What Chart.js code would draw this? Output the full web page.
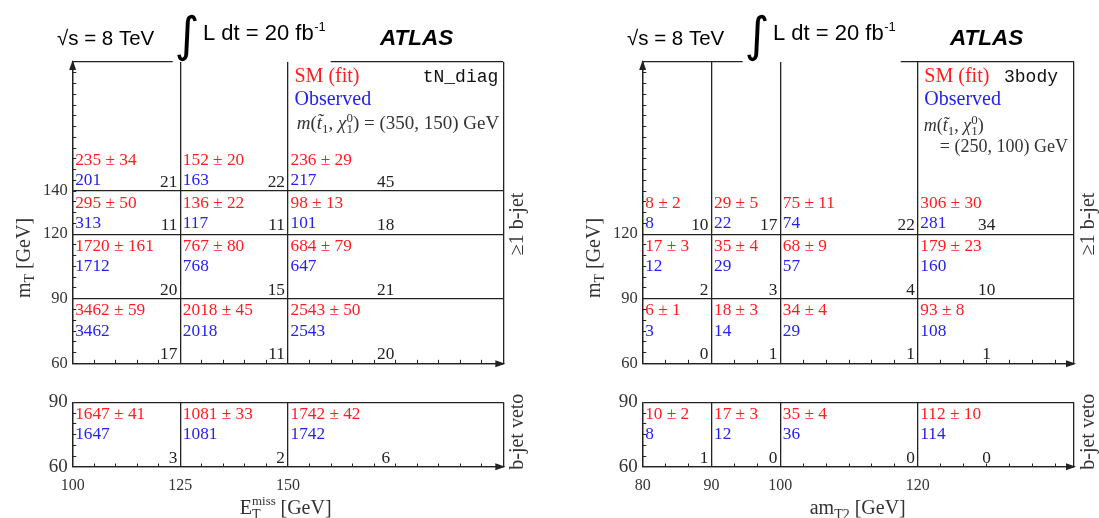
<!DOCTYPE html>
<html>
<head>
<meta charset="utf-8">
<title>SM fit vs observed yields</title>
<script src="https://cdn.jsdelivr.net/npm/chart.js@4.4.1/dist/chart.umd.min.js"></script>
<style>
  html, body { margin: 0; padding: 0; background: #fff; }
  #page { position: relative; width: 1099px; height: 518px; overflow: hidden; background: #fff; }
  #page canvas { position: absolute; left: 0; top: 0; }
</style>
</head>
<body>
<div id="page">
  <canvas id="tnMain" width="1099" height="518"></canvas>
  <canvas id="tnVeto" width="1099" height="518"></canvas>
  <canvas id="bodyMain" width="1099" height="518"></canvas>
  <canvas id="bodyVeto" width="1099" height="518"></canvas>
</div>
<script>
// tN_diag: ETmiss x mT, rows go bottom -> top (60-90, 90-120, 120-140, >140)
const tnXTicks = [100, 125, 150];
const tnYTicks = [60, 90, 120, 140];
const tnFit = [[3462, 2018, 2543], [1720, 767, 684], [295, 136, 98], [235, 152, 236]];
const tnFitErr = [[59, 45, 50], [161, 80, 79], [50, 22, 13], [34, 20, 29]];
const tnObs = [[3462, 2018, 2543], [1712, 768, 647], [313, 117, 101], [201, 163, 217]];
const tnSig = [[17, 11, 20], [20, 15, 21], [11, 11, 18], [21, 22, 45]];

// tN_diag, b-jet veto (mT 60-90)
const tnVetoYTicks = [60, 90];
const tnVetoFit = [[1647, 1081, 1742]];
const tnVetoFitErr = [[41, 33, 42]];
const tnVetoObs = [[1647, 1081, 1742]];
const tnVetoSig = [[3, 2, 6]];

// 3body: amT2 x mT, rows bottom -> top (60-90, 90-120, >120)
const b3XTicks = [80, 90, 100, 120];
const b3YTicks = [60, 90, 120];
const b3Fit = [[6, 18, 34, 93], [17, 35, 68, 179], [8, 29, 75, 306]];
const b3FitErr = [[1, 3, 4, 8], [3, 4, 9, 23], [2, 5, 11, 30]];
const b3Obs = [[3, 14, 29, 108], [12, 29, 57, 160], [8, 22, 74, 281]];
const b3Sig = [[0, 1, 1, 1], [2, 3, 4, 10], [10, 17, 22, 34]];

// 3body, b-jet veto (mT 60-90)
const b3VetoYTicks = [60, 90];
const b3VetoFit = [[10, 17, 35, 112]];
const b3VetoFitErr = [[2, 3, 4, 10]];
const b3VetoObs = [[8, 12, 36, 114]];
const b3VetoSig = [[1, 0, 0, 0]];

const W = 1099, H = 518;
const RED = '#ff1c1c', BLUE = '#2222ee', INK = '#222', AXIS = '#333';
const LW = 1.3;
const Y_AXIS_W = 50, X_AXIS_H = 45;
const SERIF = '"Liberation Serif", "DejaVu Serif", serif';
const SANS = '"Liberation Sans", Arial, sans-serif';
const MONO = '"Liberation Mono", "DejaVu Sans Mono", monospace';

function crisp(v, w) {
  const h = w / 2;
  return Math.round(v - h) + h;
}

function line(ctx, x1, y1, x2, y2) {
  ctx.beginPath();
  ctx.moveTo(x1, y1);
  ctx.lineTo(x2, y2);
  ctx.stroke();
}

// draws a run of text pieces (sub/superscripts), returns width
function drawParts(ctx, x, y, parts, dry) {
  let cx = x;
  parts.forEach((p) => {
    ctx.font = p.f;
    const w = ctx.measureText(p.t).width;
    if (!dry) ctx.fillText(p.t, cx, y + (p.dy || 0));
    if (!p.over) cx += w;
  });
  return cx - x;
}

function partsCentered(ctx, cx, y, parts) {
  const w = drawParts(ctx, 0, 0, parts, true);
  drawParts(ctx, cx - w / 2, y, parts);
}

function rotatedLabel(ctx, baseX, cy, parts, color) {
  ctx.save();
  ctx.translate(baseX, cy);
  ctx.rotate(-Math.PI / 2);
  ctx.fillStyle = color;
  ctx.textAlign = 'left';
  ctx.textBaseline = 'alphabetic';
  partsCentered(ctx, 0, 0, parts);
  ctx.restore();
}

const f = (size, style) => `${style ? style + ' ' : ''}${size}px ${SERIF}`;

const panels = [
  {
    id: 'tnMain', kind: 'main', box: [72.7, 62, 503.3, 363.3], x: [100, 200], y: [60, 200],
    xTicks: tnXTicks, yTicks: tnYTicks, fit: tnFit, err: tnFitErr, obs: tnObs, sig: tnSig,
    openTop: true, lastCenter: 172.7, minorX: 5, yFont: 16.5,
    tag: 'tN_diag', tagRight: 5, massSplit: false, massSize: 19, massPair: '(350, 150) GeV'
  },
  {
    id: 'tnVeto', kind: 'veto', box: [72.7, 402.3, 503.3, 467], x: [100, 200], y: [60, 90],
    xTicks: tnXTicks, yTicks: tnVetoYTicks, fit: tnVetoFit, err: tnVetoFitErr, obs: tnVetoObs, sig: tnVetoSig,
    openTop: false, lastCenter: 172.7, minorX: 5, yFont: 19,
    xTitle: [{ t: 'E', f: f(20) }, { t: 'miss', f: f(13), dy: -9, over: true }, { t: 'T', f: f(14), dy: 5 }, { t: '    [GeV]', f: f(20) }]
  },
  {
    id: 'bodyMain', kind: 'main', box: [642.7, 62, 1074, 363.3], x: [80, 142.7], y: [60, 200],
    xTicks: b3XTicks, yTicks: b3YTicks, fit: b3Fit, err: b3FitErr, obs: b3Obs, sig: b3Sig,
    openTop: true, lastCenter: 130, minorX: 10 / 3, yFont: 16.5,
    tag: '3body', tagRight: 16, massSplit: true, massSize: 18, massPair: '(250, 100) GeV'
  },
  {
    id: 'bodyVeto', kind: 'veto', box: [642.7, 402.3, 1074, 467], x: [80, 142.7], y: [60, 90],
    xTicks: b3XTicks, yTicks: b3VetoYTicks, fit: b3VetoFit, err: b3VetoFitErr, obs: b3VetoObs, sig: b3VetoSig,
    openTop: false, lastCenter: 130, minorX: 10 / 3, yFont: 19,
    xTitle: [{ t: 'am', f: f(20) }, { t: 'T2', f: f(14), dy: 5 }, { t: ' [GeV]', f: f(20) }]
  }
];

function drawCells(chart, p) {
  const { ctx } = chart;
  const xs = chart.scales.x, ys = chart.scales.y;
  const xEdges = [...p.xTicks, p.x[1]];
  const yEdges = p.yTicks[p.yTicks.length - 1] === p.y[1] ? p.yTicks : [...p.yTicks, p.y[1]];
  ctx.save();
  ctx.font = f(17.3);
  ctx.textBaseline = 'alphabetic';
  p.fit.forEach((row, r) => {
    row.forEach((v, c) => {
      const left = xs.getPixelForValue(xEdges[c]);
      const right = xs.getPixelForValue(xEdges[c + 1]);
      const bottom = ys.getPixelForValue(yEdges[r]);
      const topVal = (p.openTop && r === p.fit.length - 1) ? yEdges[r] + 20 : yEdges[r + 1];
      const smY = ys.getPixelForValue(topVal) + 16.5;
      ctx.textAlign = 'left';
      ctx.fillStyle = RED;
      ctx.fillText(`${v} ± ${p.err[r][c]}`, left + 2.5, smY);
      ctx.fillStyle = BLUE;
      ctx.fillText(String(p.obs[r][c]), left + 2.5, smY + 20.5);
      ctx.fillStyle = INK;
      if (c === row.length - 1) {
        ctx.textAlign = 'center';
        ctx.fillText(String(p.sig[r][c]), xs.getPixelForValue(p.lastCenter), bottom - 4);
      } else {
        ctx.textAlign = 'right';
        ctx.fillText(String(p.sig[r][c]), right - 3, bottom - 4);
      }
    });
  });
  ctx.restore();
}

function drawFrame(chart, p) {
  const { ctx, chartArea: a } = chart;
  const xs = chart.scales.x, ys = chart.scales.y;
  ctx.save();
  ctx.strokeStyle = INK;
  ctx.fillStyle = INK;
  ctx.lineWidth = LW;
  const xR = crisp(a.right, LW), yT = crisp(a.top, LW), yB = crisp(a.bottom, LW), xL = crisp(a.left, LW);
  line(ctx, xR, a.top, xR, a.bottom);
  if (p.kind === 'main') {
    // top edge is interrupted by the luminosity label
    line(ctx, a.left, yT, a.left + 100, yT);
    line(ctx, a.left + 258, yT, a.right, yT);
    ctx.beginPath();
    ctx.moveTo(xL, a.top - 2);
    ctx.lineTo(xL - 3.5, a.top + 8);
    ctx.lineTo(xL + 3.5, a.top + 8);
    ctx.closePath();
    ctx.fill();
  }
  ctx.beginPath();
  ctx.moveTo(a.right + 2, yB);
  ctx.lineTo(a.right - 8, yB - 3.5);
  ctx.lineTo(a.right - 8, yB + 3.5);
  ctx.closePath();
  ctx.fill();

  // minor ticks, pointing inwards
  ctx.lineWidth = 1;
  for (let i = 1; ; i++) {
    const v = p.x[0] + i * p.minorX;
    if (v >= p.x[1] - 1) break;
    const px = crisp(xs.getPixelForValue(v), 1);
    line(ctx, px, a.bottom, px, a.bottom - 3.5);
  }
  for (let v = p.y[0] + 5; v < p.y[1]; v += 5) {
    const py = crisp(ys.getPixelForValue(v), 1);
    line(ctx, a.left, py, a.left + 3.5, py);
  }
  ctx.restore();
}

function drawHeader(chart, p) {
  const { ctx, chartArea: a } = chart;
  const L = a.left, R = a.right;
  const xs = chart.scales.x;
  ctx.save();
  ctx.textBaseline = 'alphabetic';
  ctx.textAlign = 'left';
  ctx.fillStyle = '#000';
  ctx.font = `20.5px ${SANS}`;
  ctx.fillText('√s = 8 TeV', L - 15.7, 45);
  ctx.font = '48px "DejaVu Sans"';
  ctx.fillText('∫', L + 102, 50.5);
  ctx.font = `22px ${SANS}`;
  ctx.fillText('L dt = 20 fb', L + 130.3, 40);
  const lw = ctx.measureText('L dt = 20 fb').width;
  ctx.font = `13px ${SANS}`;
  ctx.fillText('-1', L + 130.3 + lw + 0.5, 31);
  ctx.font = `italic bold 22.5px ${SANS}`;
  ctx.fillText('ATLAS', L + 307.3, 45);

  // legend block in the top-right cell
  const x0 = xs.getPixelForValue(p.xTicks[p.xTicks.length - 1]);
  ctx.font = f(20);
  ctx.fillStyle = RED;
  ctx.fillText('SM (fit)', x0 + 6.5, 82);
  ctx.fillStyle = BLUE;
  ctx.fillText('Observed', x0 + 6.5, 105);
  ctx.fillStyle = '#111';
  ctx.font = `18px ${MONO}`;
  ctx.textAlign = 'right';
  ctx.fillText(p.tag, R - p.tagRight, 82);
  ctx.textAlign = 'left';
  ctx.fillStyle = '#333';
  const s = p.massSize, ss = Math.round(s * 0.7);
  const mass = [
    { t: 'm', f: f(s, 'italic') }, { t: '(', f: f(s) }, { t: 't\u0303', f: f(s, 'italic') },
    { t: '1', f: f(ss), dy: 4 }, { t: ', ', f: f(s) }, { t: 'χ', f: f(s, 'italic') },
    { t: '0', f: f(ss), dy: -7, over: true }, { t: '1', f: f(ss), dy: 4 }, { t: ')', f: f(s) }
  ];
  if (p.massSplit) {
    drawParts(ctx, x0 + 6, 131, mass);
    drawParts(ctx, x0 + 22, 152, [{ t: '= ' + p.massPair, f: f(s) }]);
  } else {
    drawParts(ctx, x0 + 8.7, 128.5, [...mass, { t: ' = ' + p.massPair, f: f(s) }]);
  }

  // axis title and region label
  rotatedLabel(ctx, L - 42.5, 258, [{ t: 'm', f: f(20) }, { t: 'T', f: f(14), dy: 4 }, { t: ' [GeV]', f: f(20) }], AXIS);
  rotatedLabel(ctx, R + 20, 224, [{ t: '≥1 b-jet', f: f(20) }], AXIS);
  ctx.restore();
}

function drawVetoLabels(chart, p) {
  const { ctx, chartArea: a } = chart;
  ctx.save();
  ctx.textBaseline = 'alphabetic';
  ctx.textAlign = 'left';
  ctx.fillStyle = AXIS;
  drawParts(ctx, a.left + 167, 514, p.xTitle);
  rotatedLabel(ctx, a.right + 20, 431.7, [{ t: 'b-jet veto', f: f(20) }], AXIS);
  ctx.restore();
}

function makeChart(p) {
  const [left, top, right, bottom] = p.box;
  const xH = p.kind === 'veto' ? X_AXIS_H : 0;
  const gridOpts = { color: INK, lineWidth: LW, drawTicks: false };
  return new Chart(document.getElementById(p.id), {
    type: 'scatter',
    data: { datasets: [] },
    options: {
      responsive: false,
      animation: false,
      devicePixelRatio: 1,
      layout: { padding: { left: left - Y_AXIS_W, top, right: W - right, bottom: H - bottom - xH } },
      plugins: { legend: { display: false }, tooltip: { enabled: false } },
      scales: {
        x: {
          type: 'linear', min: p.x[0], max: p.x[1],
          afterFit: (s) => { s.height = xH; },
          afterBuildTicks: (s) => { s.ticks = p.xTicks.map((v) => ({ value: v })); },
          grid: gridOpts,
          border: { display: true, color: INK, width: LW },
          ticks: {
            display: p.kind === 'veto', color: AXIS, padding: 9,
            font: { family: SERIF, size: 16 }, maxRotation: 0, autoSkip: false
          }
        },
        y: {
          type: 'linear', min: p.y[0], max: p.y[1],
          afterFit: (s) => { s.width = Y_AXIS_W; },
          afterBuildTicks: (s) => { s.ticks = p.yTicks.map((v) => ({ value: v })); },
          grid: gridOpts,
          border: { display: true, color: INK, width: LW },
          ticks: { color: AXIS, padding: 5, font: { family: SERIF, size: p.yFont }, autoSkip: false }
        }
      }
    },
    plugins: [{
      id: 'cellTable',
      afterDraw(chart) {
        drawFrame(chart, p);
        drawCells(chart, p);
        if (p.kind === 'main') drawHeader(chart, p);
        else drawVetoLabels(chart, p);
      }
    }]
  });
}

panels.forEach(makeChart);
</script>
</body>
</html>
